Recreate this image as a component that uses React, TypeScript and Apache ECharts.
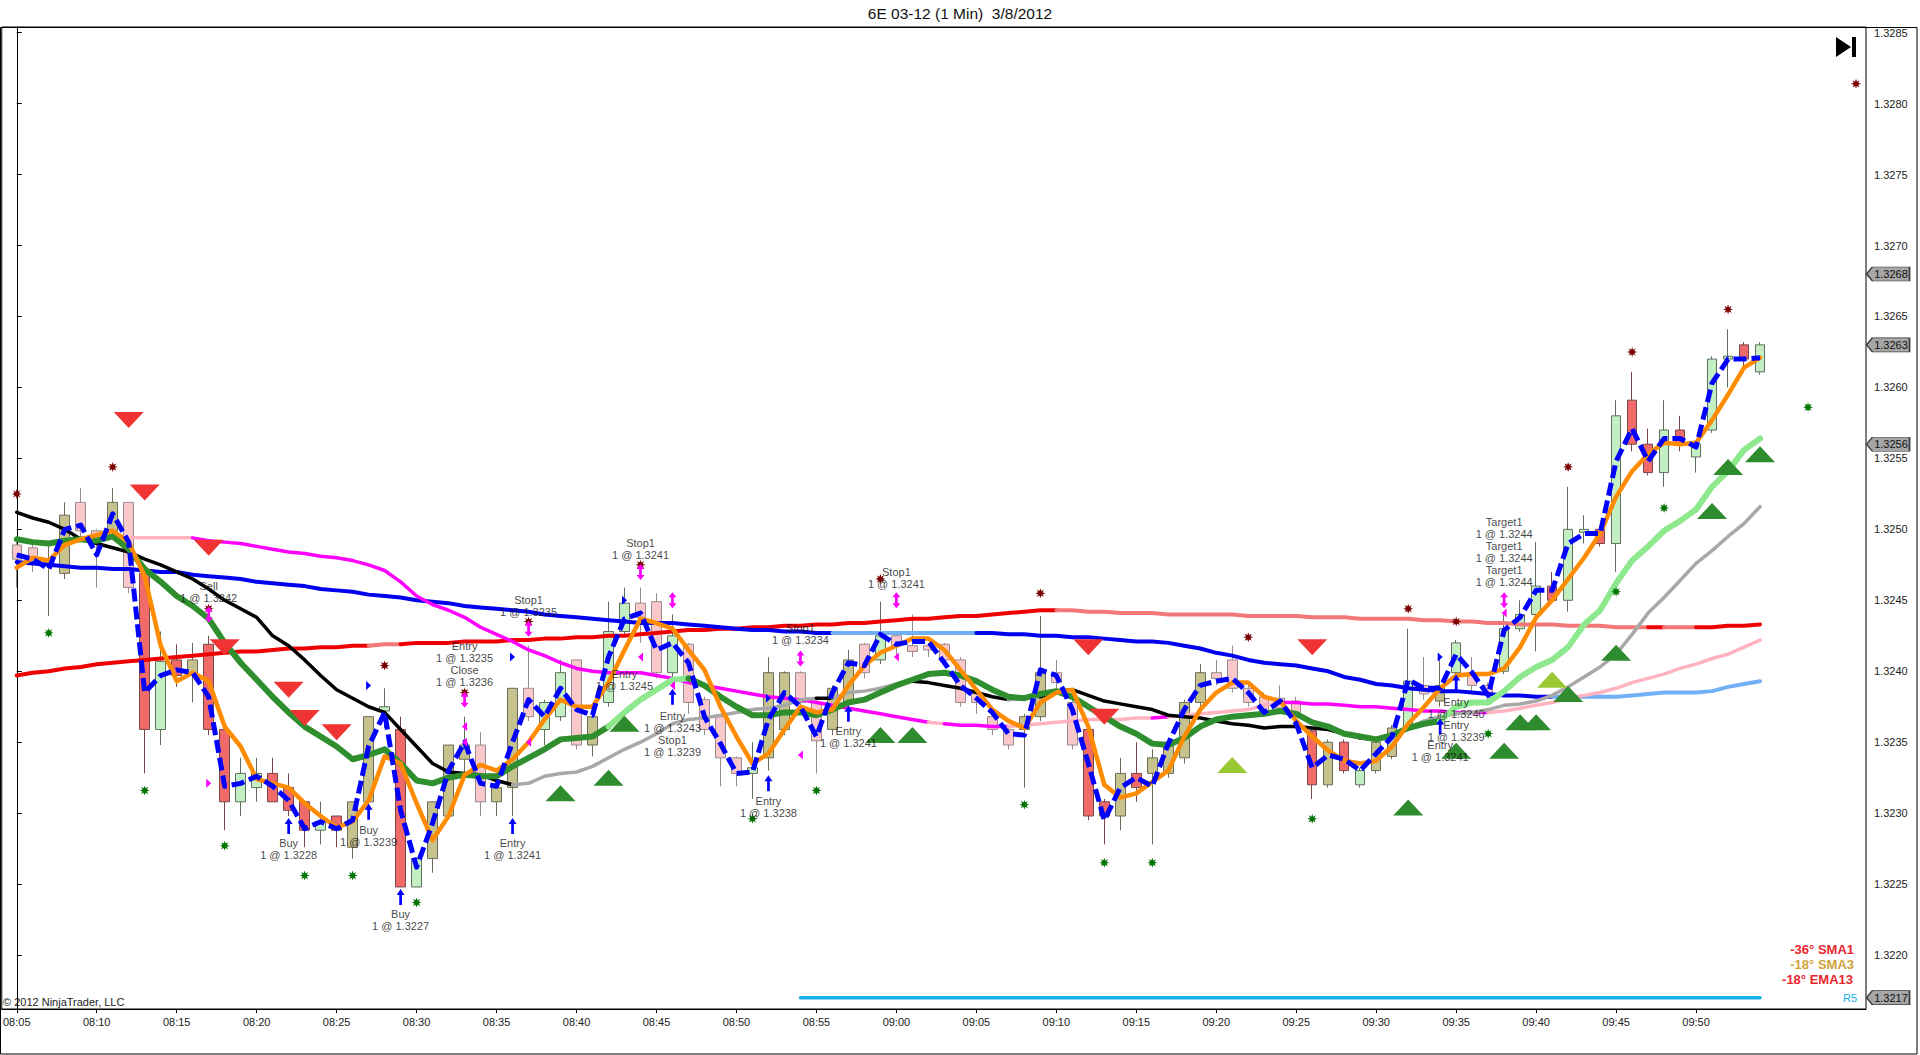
import React, { useEffect, useRef } from 'react';
import * as echarts from 'echarts';

const FONT = '"Liberation Sans", Arial, sans-serif';

// ---------- bars (index 0 = 08:05, one per minute) ----------
const OPEN = [1.32489,1.32487,1.32475,1.32469,1.32519,1.32499,1.32499,1.32519,1.32469,1.32359,
1.32408,1.32397,1.32419,1.32359,1.32308,1.32318,1.32328,1.32318,1.32308,1.32288,
1.32298,1.32276,1.32308,1.32372,1.32359,1.32248,1.32268,1.32298,1.32338,1.32348,
1.32308,1.32318,1.32388,1.32359,1.32368,1.32408,1.32348,1.32378,1.32428,1.32448,
1.32449,1.32399,1.32419,1.32380,1.32368,1.32339,1.32328,1.32339,1.32359,1.32399,
1.32378,1.32359,1.32378,1.32419,1.32408,1.32425,1.32418,1.32418,1.32419,1.32408,
1.32385,1.32368,1.32359,1.32359,1.32368,1.32399,1.32378,1.32359,1.32308,1.32298,
1.32328,1.32328,1.32328,1.32339,1.32378,1.32399,1.32408,1.32388,1.32382,1.32381,
1.32379,1.32358,1.32320,1.32350,1.32320,1.32330,1.32340,1.32360,1.32390,1.32379,
1.32399,1.32399,1.32390,1.32400,1.32430,1.32440,1.32460,1.32450,1.32498,1.32500,
1.32490,1.32591,1.32560,1.32540,1.32570,1.32551,1.32570,1.32620,1.32630,1.32611];
const CLOSE = [1.32479,1.32480,1.32478,1.32510,1.32499,1.32491,1.32519,1.32459,1.32359,1.32407,
1.32397,1.32408,1.32359,1.32308,1.32328,1.32328,1.32308,1.32302,1.32288,1.32294,
1.32288,1.32308,1.32368,1.32375,1.32248,1.32268,1.32308,1.32348,1.32348,1.32308,
1.32318,1.32388,1.32368,1.32378,1.32399,1.32348,1.32368,1.32428,1.32448,1.32438,
1.32399,1.32425,1.32378,1.32359,1.32339,1.32328,1.32332,1.32399,1.32399,1.32378,
1.32351,1.32388,1.32408,1.32399,1.32425,1.32418,1.32414,1.32415,1.32408,1.32378,
1.32378,1.32359,1.32348,1.32368,1.32399,1.32392,1.32348,1.32298,1.32298,1.32328,
1.32318,1.32339,1.32350,1.32378,1.32399,1.32395,1.32388,1.32378,1.32372,1.32374,
1.32371,1.32320,1.32350,1.32330,1.32330,1.32350,1.32360,1.32393,1.32384,1.32390,
1.32420,1.32390,1.32384,1.32430,1.32440,1.32460,1.32450,1.32500,1.32500,1.32490,
1.32580,1.32560,1.32540,1.32570,1.32560,1.32560,1.32620,1.32622,1.32620,1.32630];
const LOW = [1.32459,1.32470,1.32439,1.32465,1.32495,1.32459,1.32495,1.32455,1.32328,1.32348,
1.32389,1.32378,1.32355,1.32288,1.32298,1.32308,1.32308,1.32298,1.32276,1.32278,
1.32276,1.32268,1.32298,1.32360,1.32248,1.32248,1.32258,1.32298,1.32328,1.32298,
1.32298,1.32298,1.32365,1.32348,1.32365,1.32345,1.32340,1.32375,1.32425,1.32420,
1.32395,1.32390,1.32370,1.32355,1.32319,1.32319,1.32310,1.32330,1.32355,1.32370,
1.32328,1.32355,1.32370,1.32395,1.32405,1.32410,1.32410,1.32410,1.32405,1.32375,
1.32370,1.32355,1.32345,1.32318,1.32365,1.32388,1.32345,1.32295,1.32278,1.32288,
1.32308,1.32278,1.32325,1.32335,1.32375,1.32390,1.32385,1.32375,1.32368,1.32370,
1.32368,1.32310,1.32318,1.32328,1.32318,1.32328,1.32338,1.32358,1.32380,1.32375,
1.32395,1.32385,1.32380,1.32398,1.32428,1.32414,1.32448,1.32442,1.32490,1.32488,
1.32470,1.32555,1.32538,1.32530,1.32555,1.32540,1.32568,1.32600,1.32612,1.32609];
const HIGH = [1.32491,1.32490,1.32491,1.32519,1.32529,1.32500,1.32529,1.32519,1.32469,1.32428,
1.32419,1.32420,1.32425,1.32359,1.32339,1.32339,1.32339,1.32328,1.32308,1.32308,
1.32298,1.32308,1.32368,1.32388,1.32368,1.32268,1.32308,1.32348,1.32368,1.32357,
1.32318,1.32388,1.32418,1.32380,1.32408,1.32408,1.32370,1.32449,1.32459,1.32459,
1.32455,1.32440,1.32420,1.32382,1.32370,1.32340,1.32350,1.32410,1.32400,1.32400,
1.32380,1.32390,1.32415,1.32420,1.32449,1.32428,1.32440,1.32420,1.32420,1.32410,
1.32388,1.32370,1.32362,1.32370,1.32439,1.32408,1.32380,1.32362,1.32310,1.32339,
1.32350,1.32345,1.32352,1.32380,1.32405,1.32408,1.32418,1.32390,1.32385,1.32390,
1.32382,1.32360,1.32352,1.32352,1.32332,1.32352,1.32362,1.32430,1.32410,1.32410,
1.32422,1.32410,1.32392,1.32440,1.32450,1.32491,1.32470,1.32530,1.32510,1.32502,
1.32591,1.32611,1.32571,1.32591,1.32580,1.32562,1.32622,1.32641,1.32632,1.32632];
// g = light green, p = pink, r = red, o = olive
const BAR_COLOR = 'ppooppoprg' + 'rorrggrrrg' + 'roogrgooop' + 'oopggpoggp' + 'pgppppgoop' +
  'poopgppppp' + 'pppoopprro' + 'rooooppppp' + 'prorgoogpo' + 'gppgggrggr' + 'grrgrgggrg';

// ---------- indicator lines ----------
const BLACK_LINE = [1.32512,1.32508,1.32505,1.32500,1.32493,1.32490,1.32487,1.32484,1.32479,1.32475,
1.32470,1.32465,1.32458,1.32450,1.32444,1.32438,1.32425,1.32418,1.32408,1.32397,
1.32387,1.32381,1.32375,1.32371,1.32359,1.32347,1.32335,1.32329,1.32328,1.32327,
1.32323,1.32320,1.32321,1.32326,1.32328,1.32329,1.32333,1.32339,1.32345,1.32350,
1.32356,1.32363,1.32366,1.32367,1.32369,1.32371,1.32373,1.32374,1.32376,1.32380,
1.32381,1.32381,1.32385,1.32386,1.32388,1.32391,1.32393,1.32392,1.32390,1.32388,
1.32385,1.32382,1.32380,1.32381,1.32382,1.32386,1.32387,1.32383,1.32379,1.32377,
1.32375,1.32373,1.32369,1.32368,1.32367,1.32365,1.32363,1.32362,1.32360,1.32361,
1.32361,1.32360,1.32359,1.32356,1.32353,1.32352,1.32356,1.32360,1.32365,1.32368,
1.32370,1.32371,1.32373,1.32376,1.32377,1.32379,1.32383,1.32389,1.32396,1.32403,
1.32412,1.32426,1.32441,1.32452,1.32464,1.32476,1.32485,1.32495,1.32504,1.32516];
const BLACK_GRAY_RANGES = [[31, 50], [51, 56], [62, 64], [85, 109]];

const GREEN_LINE = [1.32493,1.32491,1.32490,1.32492,1.32493,1.32492,1.32495,1.32486,1.32472,1.32463,
1.32453,1.32446,1.32437,1.32420,1.32406,1.32394,1.32382,1.32371,1.32361,1.32354,
1.32347,1.32338,1.32341,1.32345,1.32335,1.32323,1.32321,1.32325,1.32327,1.32326,
1.32326,1.32333,1.32339,1.32345,1.32352,1.32353,1.32354,1.32361,1.32371,1.32380,
1.32387,1.32394,1.32395,1.32390,1.32382,1.32375,1.32369,1.32369,1.32371,1.32371,
1.32369,1.32373,1.32378,1.32380,1.32385,1.32390,1.32394,1.32398,1.32399,1.32397,
1.32393,1.32387,1.32382,1.32381,1.32384,1.32386,1.32382,1.32375,1.32368,1.32361,
1.32356,1.32349,1.32348,1.32353,1.32361,1.32366,1.32368,1.32369,1.32370,1.32372,
1.32370,1.32364,1.32361,1.32356,1.32354,1.32352,1.32355,1.32360,1.32363,1.32365,
1.32375,1.32378,1.32378,1.32386,1.32396,1.32403,1.32408,1.32417,1.32433,1.32443,
1.32462,1.32478,1.32488,1.32499,1.32506,1.32514,1.32530,1.32541,1.32556,1.32564];
const GREEN_LIGHT_RANGES = [[37, 42], [89, 109]];

const BLUE_LINE = [1.32477,1.32476,1.32475,1.32474,1.32473,1.32473,1.32472,1.32472,1.32471,1.32470,
1.32470,1.32468,1.32467,1.32466,1.32465,1.32463,1.32462,1.32461,1.32460,1.32458,
1.32457,1.32456,1.32454,1.32453,1.32452,1.32450,1.32449,1.32448,1.32446,1.32445,
1.32444,1.32443,1.32442,1.32440,1.32439,1.32438,1.32437,1.32436,1.32435,1.32434,
1.32434,1.32434,1.32433,1.32432,1.32431,1.32430,1.32429,1.32429,1.32428,1.32428,
1.32427,1.32427,1.32427,1.32427,1.32427,1.32427,1.32427,1.32427,1.32427,1.32427,
1.32427,1.32427,1.32426,1.32426,1.32425,1.32425,1.32424,1.32424,1.32423,1.32422,
1.32421,1.32421,1.32420,1.32418,1.32416,1.32413,1.32411,1.32408,1.32406,1.32405,
1.32404,1.32402,1.32400,1.32396,1.32394,1.32391,1.32390,1.32388,1.32387,1.32386,
1.32386,1.32385,1.32384,1.32383,1.32383,1.32382,1.32382,1.32382,1.32382,1.32382,
1.32382,1.32383,1.32384,1.32385,1.32385,1.32385,1.32386,1.32389,1.32391,1.32393];
const BLUE_LIGHT_RANGES = [[51, 60], [96, 109]];

const RED_LINE = [1.32397,1.32399,1.32400,1.32402,1.32403,1.32405,1.32406,1.32407,1.32408,1.32409,
1.32410,1.32411,1.32412,1.32413,1.32414,1.32414,1.32415,1.32416,1.32416,1.32417,
1.32417,1.32418,1.32418,1.32419,1.32419,1.32420,1.32420,1.32420,1.32421,1.32421,
1.32421,1.32422,1.32422,1.32423,1.32423,1.32424,1.32424,1.32425,1.32425,1.32426,
1.32427,1.32428,1.32429,1.32429,1.32430,1.32430,1.32431,1.32431,1.32432,1.32432,
1.32433,1.32433,1.32434,1.32434,1.32435,1.32436,1.32437,1.32437,1.32438,1.32439,
1.32439,1.32440,1.32441,1.32442,1.32443,1.32443,1.32443,1.32442,1.32442,1.32441,
1.32441,1.32441,1.32440,1.32440,1.32440,1.32440,1.32440,1.32439,1.32439,1.32439,
1.32439,1.32438,1.32438,1.32438,1.32437,1.32437,1.32437,1.32437,1.32436,1.32436,
1.32435,1.32435,1.32434,1.32434,1.32433,1.32433,1.32433,1.32432,1.32432,1.32432,
1.32431,1.32431,1.32431,1.32431,1.32431,1.32431,1.32431,1.32432,1.32432,1.32433];
const RED_LIGHT_RANGES = [[22, 24], [65, 102], [103, 105]];

const MAGENTA_LINE = [null,null,null,null,null,null,null,1.32494,1.32494,1.32494,
1.32494,1.32494,1.32492,1.32491,1.32490,1.32488,1.32486,1.32484,1.32483,1.32481,
1.32480,1.32478,1.32475,1.32471,1.32463,1.32453,1.32447,1.32443,1.32438,1.32431,
1.32426,1.32421,1.32415,1.32411,1.32406,1.32402,1.32400,1.32399,1.32399,1.32399,
1.32397,1.32395,1.32392,1.32390,1.32388,1.32386,1.32384,1.32382,1.32381,1.32380,
1.32378,1.32376,1.32374,1.32372,1.32370,1.32368,1.32366,1.32364,1.32363,1.32362,
1.32362,1.32361,1.32361,1.32362,1.32363,1.32364,1.32365,1.32366,1.32366,1.32366,
1.32367,1.32367,1.32368,1.32369,1.32370,1.32371,1.32372,1.32373,1.32376,1.32378,
1.32378,1.32377,1.32377,1.32376,1.32375,1.32375,1.32374,1.32373,1.32372,1.32372,
1.32371,1.32371,1.32371,1.32372,1.32374,1.32376,1.32378,1.32381,1.32383,1.32385,
1.32388,1.32392,1.32395,1.32398,1.32402,1.32405,1.32409,1.32412,1.32417,1.32422];
const MAGENTA_DARK_RANGES = [[11, 57], [58, 62], [71, 72], [79, 92]];

const ORANGE_LINE = [1.32473,1.32480,1.32478,1.32489,1.32493,1.32496,1.32499,1.32491,1.32467,1.32418,
1.32393,1.32399,1.32393,1.32361,1.32347,1.32324,1.32321,1.32318,1.32307,1.32298,
1.32290,1.32294,1.32309,1.32340,1.32335,1.32307,1.32281,1.32298,1.32327,1.32334,
1.32330,1.32338,1.32350,1.32366,1.32380,1.32375,1.32375,1.32392,1.32415,1.32437,
1.32434,1.32430,1.32415,1.32401,1.32375,1.32354,1.32335,1.32342,1.32359,1.32375,
1.32371,1.32373,1.32390,1.32404,1.32413,1.32418,1.32423,1.32423,1.32415,1.32401,
1.32387,1.32373,1.32365,1.32360,1.32378,1.32385,1.32387,1.32361,1.32320,1.32311,
1.32314,1.32322,1.32330,1.32354,1.32373,1.32385,1.32392,1.32392,1.32382,1.32379,
1.32365,1.32354,1.32344,1.32337,1.32335,1.32337,1.32347,1.32363,1.32375,1.32388,
1.32397,1.32398,1.32398,1.32402,1.32417,1.32438,1.32450,1.32465,1.32480,1.32497,
1.32523,1.32541,1.32553,1.32561,1.32560,1.32561,1.32577,1.32595,1.32614,1.32621];

const DASHED_LINE = [1.32482,1.32479,1.32472,1.32500,1.32503,1.32482,1.32511,1.32491,1.32385,1.32397,
1.32401,1.32399,1.32382,1.32319,1.32321,1.32326,1.32319,1.32309,1.32289,1.32294,
1.32289,1.32295,1.32347,1.32371,1.32302,1.32262,1.32293,1.32330,1.32350,1.32321,
1.32319,1.32350,1.32380,1.32368,1.32388,1.32373,1.32369,1.32410,1.32437,1.32441,
1.32415,1.32420,1.32406,1.32368,1.32349,1.32328,1.32329,1.32366,1.32385,1.32375,
1.32354,1.32385,1.32406,1.32404,1.32426,1.32419,1.32421,1.32421,1.32406,1.32390,
1.32381,1.32371,1.32356,1.32355,1.32401,1.32397,1.32373,1.32335,1.32295,1.32318,
1.32325,1.32319,1.32349,1.32373,1.32390,1.32393,1.32395,1.32385,1.32371,1.32379,
1.32363,1.32332,1.32341,1.32338,1.32330,1.32342,1.32354,1.32394,1.32388,1.32388,
1.32412,1.32399,1.32383,1.32429,1.32438,1.32457,1.32457,1.32490,1.32497,1.32497,
1.32548,1.32571,1.32548,1.32564,1.32564,1.32558,1.32603,1.32620,1.32620,1.32621];

const R5_LEVEL = 1.3217;
const R5_FROM = 49;
const R5_TO = 109;

// ---------- markers [bar index, price] ----------
const RED_DOWN_TRI = [[7,1.32577],[8,1.32526],[12,1.32487],[13,1.32417],[17,1.32387],[18,1.32367],[20,1.32357],[67,1.32417],[68,1.32368],[81,1.32417]];
const GREEN_UP_TRI = [[34,1.32314],[37,1.32325],[38,1.32363],[54,1.32355],[56,1.32355],[87,1.32304],[90,1.32344],[93,1.32344],[94,1.32364],[95,1.32364],[97,1.32384],[100,1.32413],[106,1.32513],[107,1.32544],[109,1.32553]];
const YELLOW_UP_TRI = [[76,1.32334],[96,1.32394]];
const DARK_RED_DOTS = [[0,1.32525],[6,1.32544],[12,1.32444],[23,1.32404],[28,1.32385],[32,1.32435],[39,1.32475],[54,1.32465],[64,1.32455],[77,1.32424],[87,1.32444],[90,1.32435],[97,1.32544],[101,1.32625],[107,1.32655],[115,1.32814]];
const GREEN_DOTS = [[2,1.32427],[8,1.32316],[13,1.32277],[18,1.32256],[21,1.32256],[25,1.32237],[46,1.32296],[50,1.32316],[63,1.32306],[68,1.32265],[71,1.32265],[81,1.32296],[92,1.32356],[100,1.32456],[103,1.32515],[112,1.32586]];
const BLUE_UP_ARROWS = [[17,1.32291],[22,1.32301],[24,1.32241],[31,1.32291],[41,1.32382],[47,1.32321],[52,1.3237],[89,1.32361],[90,1.32392]];
const MAGENTA_STOP_ARROWS = [[12,1.3244],[28,1.3238],[32,1.3243],[39,1.3247],[41,1.3245],[49,1.32409],[55,1.3245],[93,1.3245]];
const MAGENTA_LEFT_TICKS = [[28,1.32361],[28,1.3235],[32,1.3235],[39,1.3241],[41,1.3239],[49,1.32341],[55,1.3241],[93,1.32441]];
const MAGENTA_RIGHT_TICKS = [[12,1.32321]];
const BLUE_RIGHT_TICKS = [[22,1.3239],[31,1.3241],[38,1.3245],[47,1.32381],[89,1.3241]];

const ANNOTATIONS: [number, number, string][] = [
  [12, 1.32456, 'Sell\n1 @ 1.3242'],
  [28, 1.32405, 'Entry\n1 @ 1.3235\nClose\n1 @ 1.3236'],
  [32, 1.32446, 'Stop1\n1 @ 1.3235'],
  [17, 1.32275, 'Buy\n1 @ 1.3228'],
  [22, 1.32284, 'Buy\n1 @ 1.3239'],
  [24, 1.32225, 'Buy\n1 @ 1.3227'],
  [31, 1.32275, 'Entry\n1 @ 1.3241'],
  [39, 1.32486, 'Stop1\n1 @ 1.3241'],
  [38, 1.32394, 'Entry\n1 @ 1.3245'],
  [41, 1.32356, 'Entry\n1 @ 1.3243\nStop1\n1 @ 1.3239'],
  [49, 1.32426, 'Stop1\n1 @ 1.3234'],
  [47, 1.32304, 'Entry\n1 @ 1.3238'],
  [52, 1.32354, 'Entry\n1 @ 1.3241'],
  [55, 1.32466, 'Stop1\n1 @ 1.3241'],
  [90, 1.32374, 'Entry\n1 @ 1.3240'],
  [90, 1.32358, 'Entry\n1 @ 1.3239'],
  [89, 1.32344, 'Entry\n1 @ 1.3241'],
  [93, 1.32484, 'Target1\n1 @ 1.3244\nTarget1\n1 @ 1.3244\nTarget1\n1 @ 1.3244'],
];

// ---------- axes ----------
const START_MINUTE = 8 * 60 + 5;
const X_TICKS = [0, 5, 10, 15, 20, 25, 30, 35, 40, 45, 50, 55, 60, 65, 70, 75, 80, 85, 90, 95, 100, 105];
const Y_TICKS = [1.322, 1.3225, 1.323, 1.3235, 1.324, 1.3245, 1.325, 1.3255, 1.326, 1.3265, 1.327, 1.3275, 1.328, 1.3285];
const PRICE_TAGS = [1.3268, 1.3263, 1.3256, 1.3217];
const X_MIN = -0.9375;
const X_MAX = 115.625;
const Y_MIN = 1.32162;
const Y_MAX = 1.32854;

const CANDLE_FILL: Record<string, string> = { g: '#c3efc3', p: '#f8c8cb', r: '#f06a6a', o: '#c6c28e' };
const CANDLE_EDGE: Record<string, string> = { g: '#5f6f5f', p: '#9a8a8c', r: '#7a4848', o: '#6e6c58' };

function timeLabel(i: number) {
  const m = START_MINUTE + Math.round(i);
  const hh = Math.floor(m / 60);
  const mm = m % 60;
  return (hh < 10 ? '0' : '') + hh + ':' + (mm < 10 ? '0' : '') + mm;
}

function starPath() {
  let d = '';
  for (let k = 0; k < 16; k++) {
    const r = k % 2 === 0 ? 10 : 4.8;
    const a = (k * Math.PI) / 8 - Math.PI / 2;
    d += (k === 0 ? 'M' : 'L') + (10 + r * Math.cos(a)).toFixed(2) + ',' + (10 + r * Math.sin(a)).toFixed(2) + ' ';
  }
  return 'path://' + d + 'Z';
}

function lineSeries(data: any[], color: string, width: number, z: number, type: any = 'solid') {
  return {
    type: 'line', data, showSymbol: false, symbol: 'none', silent: true, z,
    lineStyle: { color, width, type, cap: type === 'solid' ? 'round' : 'butt', join: 'round' },
  };
}

function segmented(values: (number | null)[], base: string, alt: string, ranges: number[][], width: number, z: number) {
  const out: any[] = [];
  const isAlt = (k: number) => ranges.some(([a, b]) => k >= a && k < b);
  let cur: any[] = [];
  let curColor = '';
  for (let k = 0; k < values.length - 1; k++) {
    if (values[k] == null || values[k + 1] == null) continue;
    const c = isAlt(k) ? alt : base;
    if (c !== curColor) {
      if (cur.length) out.push(lineSeries(cur, curColor, width, z));
      cur = [[k, values[k]]];
      curColor = c;
    }
    cur.push([k + 1, values[k + 1]]);
  }
  if (cur.length) out.push(lineSeries(cur, curColor, width, z));
  return out;
}

function markers(pts: number[][], symbol: string, size: any, color: string, z: number) {
  return {
    type: 'scatter', data: pts, symbol, symbolSize: size, silent: true, z, clip: false,
    itemStyle: { color, opacity: 1 },
  };
}

function buildOption() {
  const candles = OPEN.map((o, i) => {
    const c = BAR_COLOR[i];
    return {
      value: [i, o, CLOSE[i], LOW[i], HIGH[i]],
      itemStyle: {
        color: CANDLE_FILL[c], color0: CANDLE_FILL[c],
        borderColor: CANDLE_EDGE[c], borderColor0: CANDLE_EDGE[c], borderColorDoji: CANDLE_EDGE[c],
        borderWidth: 1,
      },
    };
  });

  const star = starPath();
  const upArrow = 'path://M5,0 L10,6 L6.7,6 L6.7,16 L3.3,16 L3.3,6 L0,6 Z';
  const doubleArrow = 'path://M5,0 L10,5 L6.7,5 L6.7,11 L10,11 L5,16 L0,11 L3.3,11 L3.3,5 L0,5 Z';
  const downTri = 'path://M0,0 L10,0 L5,6 Z';
  const upTri = 'path://M5,0 L10,6 L0,6 Z';
  const leftTri = 'path://M0,5 L6,0 L6,10 Z';
  const rightTri = 'path://M6,5 L0,0 L0,10 Z';
  const tag = 'path://M0,7 L6,0 L44,0 L44,14 L6,14 Z';

  const series: any[] = [
    {
      type: 'candlestick', data: candles, encode: { x: 0, y: [1, 2, 3, 4] },
      barWidth: 10, barMinWidth: 10, barMaxWidth: 10, silent: true, z: 2,
    },
    lineSeries([[R5_FROM, R5_LEVEL], [R5_TO, R5_LEVEL]], '#17b0ea', 3.5, 3),
    ...segmented(RED_LINE, '#ee0000', '#f27878', RED_LIGHT_RANGES, 4, 3),
    ...segmented(BLUE_LINE, '#0000ee', '#72b0f6', BLUE_LIGHT_RANGES, 4, 3),
    ...segmented(MAGENTA_LINE, '#ffb3c0', '#ff00ff', MAGENTA_DARK_RANGES, 3.5, 3),
    ...segmented(BLACK_LINE, '#000000', '#a8a8a8', BLACK_GRAY_RANGES, 3.5, 3),
    ...segmented(GREEN_LINE, '#2f8f2f', '#8ee88e', GREEN_LIGHT_RANGES, 6, 3),
    lineSeries(ORANGE_LINE.map((v, i) => [i, v]), '#ff8c00', 4.5, 3),
    lineSeries(DASHED_LINE.map((v, i) => [i, v]), '#0000ff', 5, 3, [13, 5]),
    markers(RED_DOWN_TRI, downTri, [30, 16], '#f03434', 4),
    markers(GREEN_UP_TRI, upTri, [30, 16], '#2e8b2e', 4),
    markers(YELLOW_UP_TRI, upTri, [30, 16], '#9ac832', 4),
    markers(DARK_RED_DOTS, star, 10, '#7a0000', 4),
    markers(GREEN_DOTS, star, 10, '#007400', 4),
    markers(BLUE_UP_ARROWS, upArrow, [8, 16], '#0000ff', 5),
    markers(MAGENTA_STOP_ARROWS, doubleArrow, [8, 16], '#ff00ff', 5),
    markers(MAGENTA_LEFT_TICKS, leftTri, [5, 9], '#ff00ff', 5),
    markers(MAGENTA_RIGHT_TICKS, rightTri, [5, 9], '#ff00ff', 5),
    markers(BLUE_RIGHT_TICKS, rightTri, [5, 9], '#0000ff', 5),
    {
      type: 'scatter', silent: true, z: 6, clip: false,
      data: ANNOTATIONS.map(a => ({ value: [a[0], a[1]], name: a[2] })),
      symbol: 'circle', symbolSize: 1, itemStyle: { color: 'rgba(0,0,0,0)' },
      label: {
        show: true, position: 'inside', formatter: '{b}', color: '#111',
        fontSize: 11, lineHeight: 12, fontFamily: FONT, align: 'center',
      },
    },
    {
      type: 'scatter', silent: true, z: 7, clip: false,
      data: PRICE_TAGS.map(v => [X_MAX, v]),
      symbol: tag, symbolSize: [43, 14], symbolOffset: [22, 0],
      itemStyle: { color: '#a6a6a6', borderColor: '#3a3a3a', borderWidth: 1, opacity: 1 },
      label: {
        show: true, position: 'inside', offset: [3, 0], color: '#111', fontSize: 11, fontFamily: FONT,
        formatter: (p: any) => p.value[1].toFixed(4),
      },
    },
  ];

  return {
    animation: false,
    backgroundColor: '#ffffff',
    textStyle: { fontFamily: FONT },
    title: {
      text: '6E 03-12 (1 Min)  3/8/2012', left: 'center', top: 0,
      textStyle: { fontSize: 15.5, fontWeight: 'normal', color: '#111', fontFamily: FONT },
    },
    grid: { left: 1, right: 54, top: 27, bottom: 46, show: true, borderColor: '#000', borderWidth: 1, backgroundColor: 'transparent' },
    xAxis: {
      type: 'value', min: X_MIN, max: X_MAX,
      axisLine: { show: true, lineStyle: { color: '#000', width: 1 } },
      axisTick: { show: true, length: 4, customValues: X_TICKS, lineStyle: { color: '#000' } },
      axisLabel: { customValues: X_TICKS, formatter: (v: number) => timeLabel(v), color: '#222', fontSize: 11, margin: 7, fontFamily: FONT },
      splitLine: { show: false },
    },
    yAxis: {
      type: 'value', position: 'right', min: Y_MIN, max: Y_MAX,
      axisLine: { show: true, lineStyle: { color: '#000', width: 1 } },
      axisTick: { show: true, length: 5, customValues: Y_TICKS, lineStyle: { color: '#000' } },
      axisLabel: { customValues: Y_TICKS, formatter: (v: number) => v.toFixed(4), color: '#222', fontSize: 11, margin: 8, fontFamily: FONT },
      splitLine: { show: false },
    },
    series,
    graphic: [
      { type: 'rect', shape: { x: 0.5, y: 27.5, width: 1916.5, height: 1026.5 }, style: { fill: 'none', stroke: '#000', lineWidth: 1 }, silent: true },
      { type: 'polygon', shape: { points: [[1836, 37], [1851, 47], [1836, 57]] }, style: { fill: '#000' }, silent: true },
      { type: 'rect', shape: { x: 1852, y: 37, width: 4, height: 20 }, style: { fill: '#000' }, silent: true },
      { type: 'text', left: 3, top: 996, style: { text: '© 2012 NinjaTrader, LLC', fill: '#222', font: '11px ' + FONT }, silent: true },
      { type: 'text', right: 66, top: 943, style: { text: '-36° SMA1', fill: '#e8262e', font: 'bold 13px ' + FONT }, silent: true },
      { type: 'text', right: 66, top: 958, style: { text: '-18° SMA3', fill: '#cfa23a', font: 'bold 13px ' + FONT }, silent: true },
      { type: 'text', right: 67, top: 973, style: { text: '-18° EMA13', fill: '#e8262e', font: 'bold 13px ' + FONT }, silent: true },
      { type: 'text', right: 63, top: 992, style: { text: 'R5', fill: '#17b0ea', font: '11px ' + FONT }, silent: true },
    ],
  };
}

export default function App() {
  const ref = useRef<HTMLDivElement>(null);
  useEffect(() => {
    if (!ref.current) return;
    const chart = echarts.init(ref.current, undefined, { renderer: 'svg' });
    chart.setOption(buildOption() as any);
    return () => chart.dispose();
  }, []);
  return (
    <div
      ref={ref}
      style={{ position: 'fixed', left: 0, top: 0, width: 1920, height: 1055, background: '#fff' }}
    />
  );
}
